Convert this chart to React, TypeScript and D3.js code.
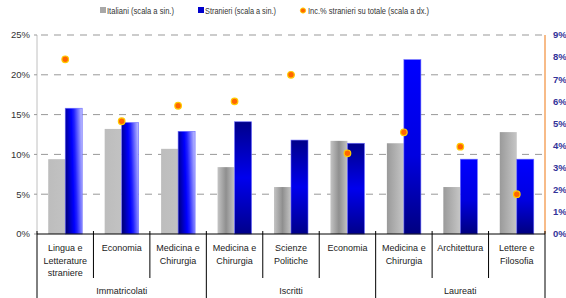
import React from "react";
import * as d3 from "d3";

// categories (lines of each label) and their groups
const categories = [
  ["Lingua e", "Letterature", "straniere"],
  ["Economia"],
  ["Medicina e", "Chirurgia"],
  ["Medicina e", "Chirurgia"],
  ["Scienze", "Politiche"],
  ["Economia"],
  ["Medicina e", "Chirurgia"],
  ["Architettura"],
  ["Lettere e", "Filosofia"],
];
const groupNames = ["Immatricolati", "Iscritti", "Laureati"];
const groupSizes = [3, 3, 3];

// values in %
const italiani = [9.4, 13.2, 10.7, 8.4, 5.9, 11.7, 11.4, 5.9, 12.8];
const stranieri = [15.8, 14.0, 12.9, 14.1, 11.8, 11.4, 21.9, 9.4, 9.4];
const incidenza = [7.9, 5.1, 5.8, 6.0, 7.2, 3.65, 4.6, 3.95, 1.8];

const leftTicks = [0, 5, 10, 15, 20, 25];
const rightTicks = [0, 1, 2, 3, 4, 5, 6, 7, 8, 9];

const W = 566;
const H = 298;
const m = { top: 35, right: 21, bottom: 64, left: 37 };
const font = "'Liberation Sans', Arial, sans-serif";

export default function App() {
  const x = d3
    .scaleBand<number>()
    .domain(d3.range(categories.length))
    .range([m.left, W - m.right]);
  const inner = d3
    .scaleBand<string>()
    .domain(["ita", "str"])
    .range([x.bandwidth() / 2 - 17, x.bandwidth() / 2 + 17]);
  const yL = d3.scaleLinear().domain([0, 25]).range([H - m.bottom, m.top]);
  const yR = d3.scaleLinear().domain([0, 9]).range([H - m.bottom, m.top]);
  const y0 = yL(0);

  // group separator positions
  let acc = 0;
  const groups = groupNames.map((name, i) => {
    const start = acc;
    acc += groupSizes[i];
    return { name, start, end: acc };
  });

  const greyFill = (i: number) => (i < 3 ? "url(#gFlat)" : i < 6 ? "url(#gMid)" : "url(#gSide)");
  const blueFill = (i: number) => (i < 3 ? "url(#bDiag)" : i < 6 ? "url(#bMid)" : "url(#bVert)");

  return (
    <svg
      width={W}
      height={H}
      style={{ position: "absolute", left: 0, top: 0, background: "#fff" }}
      fontFamily={font}
    >
      <defs>
        <linearGradient id="gFlat" x1="0" x2="1" y1="0" y2="0">
          <stop offset="0" stopColor="#bdbdbd" />
          <stop offset="1" stopColor="#c2c2c2" />
        </linearGradient>
        <linearGradient id="gMid" x1="0" x2="1" y1="0" y2="0">
          <stop offset="0" stopColor="#c4c4c4" />
          <stop offset="0.5" stopColor="#8f8f8f" />
          <stop offset="1" stopColor="#c4c4c4" />
        </linearGradient>
        <linearGradient id="gSide" x1="0" x2="1" y1="0" y2="0">
          <stop offset="0" stopColor="#9a9a9a" />
          <stop offset="1" stopColor="#c6c6c6" />
        </linearGradient>
        <linearGradient id="bDiag" x1="0" x2="1" y1="0.6" y2="0.4">
          <stop offset="0" stopColor="#000080" />
          <stop offset="0.45" stopColor="#0000ff" />
          <stop offset="0.6" stopColor="#2020ff" />
          <stop offset="1" stopColor="#b0b0ff" />
        </linearGradient>
        <linearGradient id="bMid" x1="0" x2="0" y1="0" y2="1">
          <stop offset="0" stopColor="#00008a" />
          <stop offset="0.5" stopColor="#0000ee" />
          <stop offset="1" stopColor="#00008a" />
        </linearGradient>
        <linearGradient id="bVert" x1="0" x2="0" y1="0" y2="1">
          <stop offset="0" stopColor="#0000ff" />
          <stop offset="0.55" stopColor="#0000e0" />
          <stop offset="1" stopColor="#000080" />
        </linearGradient>
      </defs>

      {/* grid */}
      {leftTicks.slice(1).map((t) => (
        <line
          key={t}
          x1={m.left + 4}
          x2={W - m.right}
          y1={yL(t)}
          y2={yL(t)}
          stroke="#999"
          strokeDasharray="7,6"
        />
      ))}

      {/* bars */}
      {categories.map((_, i) => (
        <g key={i} transform={`translate(${x(i)},0)`}>
          <rect
            x={inner("ita")}
            y={yL(italiani[i])}
            width={inner.bandwidth()}
            height={y0 - yL(italiani[i])}
            fill={greyFill(i)}
          />
          <rect
            x={inner("str")}
            y={yL(stranieri[i])}
            width={inner.bandwidth()}
            height={y0 - yL(stranieri[i])}
            fill={blueFill(i)}
            stroke="#6a6aff"
            strokeWidth={0.6}
          />
        </g>
      ))}

      {/* dots */}
      {incidenza.map((v, i) => (
        <circle
          key={i}
          cx={(x(i) as number) + x.bandwidth() / 2}
          cy={yR(v)}
          r={3.3}
          fill="#ff6600"
          stroke="#ffcc00"
          strokeWidth={1.2}
        />
      ))}

      {/* left axis */}
      <line x1={m.left} x2={m.left} y1={m.top} y2={y0} stroke="#c0c0c0" />
      {leftTicks.map((t) => (
        <g key={t}>
          <line x1={m.left - 3} x2={m.left} y1={yL(t)} y2={yL(t)} stroke="#999" />
          <text x={30} y={yL(t)} dy="0.35em" textAnchor="end" fontSize={9.5} fill="#333">
            {t}%
          </text>
        </g>
      ))}

      {/* right axis */}
      <line x1={W - m.right} x2={W - m.right} y1={m.top} y2={y0} stroke="#f4a460" strokeWidth={1.5} />
      {rightTicks.map((t) => (
        <text
          key={t}
          x={W - m.right + 8}
          y={yR(t)}
          dy="0.35em"
          fontSize={9.5}
          fontWeight="bold"
          fill="#333399"
        >
          {t}%
        </text>
      ))}

      {/* x axis */}
      <line x1={m.left} x2={W - m.right} y1={y0} y2={y0} stroke="#000" />
      {d3.range(categories.length + 1).map((i) => {
        const xx = i < categories.length ? (x(i) as number) : W - m.right;
        const isGroup = groups.some((g) => g.start === i) || i === categories.length;
        return (
          <line key={i} x1={xx} x2={xx} y1={y0 - 3} y2={isGroup ? H : y0 + 44} stroke="#000" />
        );
      })}
      {categories.map((lines, i) => (
        <text
          key={i}
          x={(x(i) as number) + x.bandwidth() / 2}
          y={y0 + 17}
          textAnchor="middle"
          fontSize={9}
          fill="#222"
        >
          {lines.map((l, j) => (
            <tspan key={j} x={(x(i) as number) + x.bandwidth() / 2} dy={j === 0 ? 0 : 12.5}>
              {l}
            </tspan>
          ))}
        </text>
      ))}
      {groups.map((g) => (
        <text
          key={g.name}
          x={((x(g.start) as number) + ((x(g.end - 1) as number) + x.bandwidth())) / 2}
          y={H - 4}
          textAnchor="middle"
          fontSize={9}
          fill="#222"
        >
          {g.name}
        </text>
      ))}

      {/* legend */}
      <g fontSize={9.5} fill="#333">
        <rect x={100} y={7} width={6} height={6} fill="#a8a8a8" />
        <text x={107} y={14} textLength={67} lengthAdjust="spacingAndGlyphs">
          Italiani (scala a sin.)
        </text>
        <rect x={198} y={7} width={6} height={6} fill="#0000cc" />
        <text x={205} y={14} textLength={71} lengthAdjust="spacingAndGlyphs">
          Stranieri (scala a sin.)
        </text>
        <circle cx={303} cy={10.5} r={2.6} fill="#ff6600" stroke="#ffcc00" strokeWidth={1} />
        <text x={308} y={14} textLength={121} lengthAdjust="spacingAndGlyphs">
          Inc.% stranieri su totale (scala a dx.)
        </text>
      </g>
    </svg>
  );
}
